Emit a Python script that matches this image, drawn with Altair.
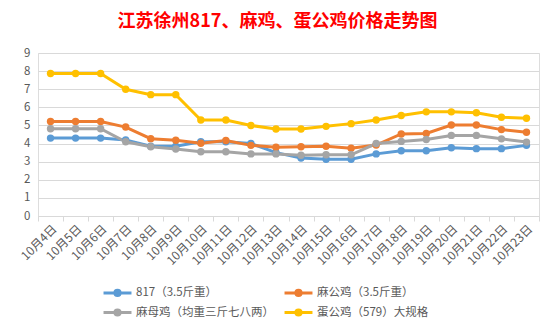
import altair as alt
import pandas as pd

dates = ["10月4日", "10月5日", "10月6日", "10月7日", "10月8日", "10月9日", "10月10日",
         "10月11日", "10月12日", "10月13日", "10月14日", "10月15日", "10月16日",
         "10月17日", "10月18日", "10月19日", "10月20日", "10月21日", "10月22日", "10月23日"]

series_names = ["817（3.5斤重）", "麻公鸡（3.5斤重）", "麻母鸡（均重三斤七八两）", "蛋公鸡（579）大规格"]

s817 = [4.3, 4.3, 4.3, 4.2, 3.85, 3.85, 4.1, 4.1, 4.0, 3.5,
        3.2, 3.13, 3.13, 3.43, 3.6, 3.6, 3.77, 3.72, 3.72, 3.9]
ma_gong = [5.22, 5.22, 5.22, 4.91, 4.27, 4.18, 4.02, 4.17, 3.9, 3.8,
           3.82, 3.85, 3.74, 3.92, 4.53, 4.56, 5.02, 5.02, 4.77, 4.62]
ma_mu = [4.82, 4.82, 4.82, 4.1, 3.82, 3.7, 3.55, 3.55, 3.43, 3.43,
         3.35, 3.38, 3.38, 4.0, 4.12, 4.22, 4.45, 4.45, 4.26, 4.08]
dan_gong = [7.87, 7.87, 7.87, 7.0, 6.7, 6.7, 5.3, 5.3, 5.0, 4.8,
            4.8, 4.95, 5.1, 5.3, 5.55, 5.75, 5.75, 5.7, 5.45, 5.4]

colors = ["#5B9BD5", "#ED7D31", "#A5A5A5", "#FFC000"]

rows = []
for name, vals in zip(series_names, [s817, ma_gong, ma_mu, dan_gong]):
    for d, v in zip(dates, vals):
        rows.append({"date": d, "series": name, "price": v})
df = pd.DataFrame(rows)

FONT = "Noto Sans CJK SC"

L, r1, r2 = 2.33, 0.433, 0.2
sym = (f"M-{L},0L{L},0"
       f"M{r1},0A{r1},{r1},0,1,1,-{r1},0A{r1},{r1},0,1,1,{r1},0"
       f"M{r2},0A{r2},{r2},0,1,1,-{r2},0A{r2},{r2},0,1,1,{r2},0")

x_enc = alt.X("date:N", sort=dates, bandPosition=0.5,
              scale=alt.Scale(type="band", paddingInner=0, paddingOuter=0),
              axis=alt.Axis(title=None, labelAngle=-45, tickBand="extent",
                            labelColor="#595959", labelFontSize=12, labelFont=FONT,
                            domainColor="#D9D9D9", tickColor="#D9D9D9", tickSize=5,
                            grid=False, labelPadding=2))
y_enc = alt.Y("price:Q", scale=alt.Scale(domain=[0, 9], nice=False),
              axis=alt.Axis(title=None, values=list(range(10)), tickCount=10,
                            labelColor="#595959", labelFontSize=11.5, labelFont=FONT,
                            domain=False, ticks=False, gridColor="#D9D9D9",
                            labelPadding=8))
color_enc = alt.Color("series:N", sort=series_names,
                      scale=alt.Scale(domain=series_names, range=colors),
                      legend=alt.Legend(title=None, orient="none", legendX=72, legendY=232,
                                        columns=2, direction="horizontal",
                                        columnPadding=4, rowPadding=1,
                                        symbolType=sym, symbolSize=144,
                                        symbolStrokeWidth=3, labelFont=FONT,
                                        labelFontSize=11.5, labelColor="#595959",
                                        labelOffset=11, padding=0))

chart = alt.Chart(df).mark_line(
    strokeWidth=3,
    point=alt.OverlayMarkDef(filled=True, size=55, opacity=1)
).encode(
    x=x_enc, y=y_enc, color=color_enc,
    order=alt.Order("series:N")
).properties(
    width=501, height=163,
    autosize=alt.AutoSizeParams(type="none"),
    padding={"left": 38, "top": 53, "right": 18, "bottom": 116},
    title=alt.Title("江苏徐州817、麻鸡、蛋公鸡价格走势图", color="#FF0000", fontSize=18,
                    font=FONT, fontWeight="bold", anchor="middle", dx=-11, offset=16)
).configure_view(stroke=None).configure(background="white")

chart.save("out.html", embed_options={"renderer": "svg", "actions": False})
